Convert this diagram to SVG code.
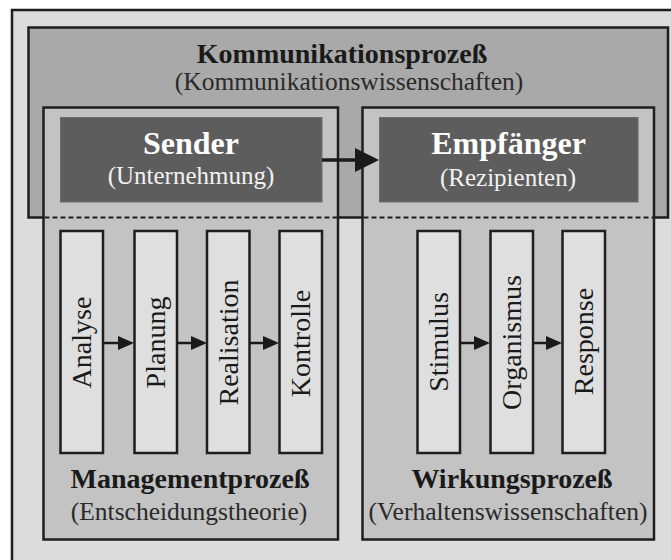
<svg xmlns="http://www.w3.org/2000/svg" width="671" height="560" viewBox="0 0 671 560">
  <defs>
    <style>
      .frame { fill: #dcdcdc; stroke: #1e1e1e; stroke-width: 2.5; }
      .komm { fill: #a9a9a9; stroke: #1e1e1e; stroke-width: 2.5; }
      .proc { fill: #c3c3c3; stroke: #1e1e1e; stroke-width: 2.5; }
      .actor { fill: #5d5d5d; stroke: #6c6c6c; stroke-width: 1; }
      .step { fill: #dfdfdf; stroke: #1e1e1e; stroke-width: 2.5; }
      .dash { stroke: #1e1e1e; stroke-width: 2; stroke-dasharray: 5 3; fill: none; }
      .edge { stroke: #1a1a1a; stroke-width: 2.5; fill: none; }
      .big { stroke: #1a1a1a; stroke-width: 3.5; fill: none; }
      .head { fill: #1a1a1a; }
      text { font-family: "Liberation Serif", "Times New Roman", serif; text-anchor: middle; }
      .title { font-weight: bold; font-size: 28px; fill: #1a1a1a; }
      .sub { font-size: 25.5px; fill: #2a2a2a; }
      .wtitle { font-weight: bold; font-size: 32px; fill: #ffffff; }
      .wsub { font-size: 25px; fill: #f2f2f2; }
      .vlabel { font-size: 28px; fill: #1a1a1a; }
    </style>
  </defs>

  <!-- background frame -->
  <rect class="frame" x="12" y="10" width="700" height="600"/>

  <!-- communication process band -->
  <g id="kommunikationsprozess">
    <rect class="komm" x="28.5" y="27.5" width="639.5" height="190"/>
    <text class="title" x="342" y="63">Kommunikationsprozeß</text>
    <text class="sub" x="349" y="90">(Kommunikationswissenschaften)</text>
  </g>

  <!-- management process column -->
  <g id="managementprozess">
    <rect class="proc" x="43.5" y="107.5" width="294.5" height="432"/>
    <line class="dash" x1="44.5" y1="217.5" x2="337" y2="217.5"/>
    <text class="title" x="190" y="488">Managementprozeß</text>
    <text class="sub" x="189" y="520">(Entscheidungstheorie)</text>
  </g>

  <!-- effect process column -->
  <g id="wirkungsprozess">
    <rect class="proc" x="362.5" y="107.5" width="291.5" height="432"/>
    <line class="dash" x1="363.5" y1="217.5" x2="653" y2="217.5"/>
    <text class="title" x="512" y="488">Wirkungsprozeß</text>
    <text class="sub" x="508" y="520">(Verhaltenswissenschaften)</text>
  </g>

  <g id="sender">
    <rect class="actor" x="60.5" y="117.5" width="261.5" height="84.5"/>
    <text class="wtitle" x="191" y="154">Sender</text>
    <text class="wsub" x="191" y="184">(Unternehmung)</text>
  </g>

  <g id="empfaenger">
    <rect class="actor" x="379.5" y="117.5" width="258.5" height="84.5"/>
    <text class="wtitle" x="508.5" y="154">Empfänger</text>
    <text class="wsub" x="508" y="186">(Rezipienten)</text>
  </g>

  <!-- management steps -->
  <g id="analyse">
    <rect class="step" x="60.5" y="231" width="42.5" height="222"/>
    <text class="vlabel" transform="translate(90.5,342.5) rotate(-90)">Analyse</text>
  </g>
  <g id="planung">
    <rect class="step" x="134.5" y="231" width="42.5" height="222"/>
    <text class="vlabel" transform="translate(164.5,342.5) rotate(-90)">Planung</text>
  </g>
  <g id="realisation">
    <rect class="step" x="207" y="231" width="42.5" height="222"/>
    <text class="vlabel" transform="translate(237.5,342.5) rotate(-90)">Realisation</text>
  </g>
  <g id="kontrolle">
    <rect class="step" x="279.5" y="231" width="42.5" height="222"/>
    <text class="vlabel" transform="translate(310,343.5) rotate(-90)">Kontrolle</text>
  </g>

  <!-- effect steps -->
  <g id="stimulus">
    <rect class="step" x="417.5" y="231" width="42.5" height="222"/>
    <text class="vlabel" transform="translate(447.5,342) rotate(-90)">Stimulus</text>
  </g>
  <g id="organismus">
    <rect class="step" x="490.5" y="231" width="42.5" height="222"/>
    <text class="vlabel" transform="translate(520.5,342.5) rotate(-90)">Organismus</text>
  </g>
  <g id="response">
    <rect class="step" x="562.5" y="231" width="42.5" height="222"/>
    <text class="vlabel" transform="translate(592.5,341.5) rotate(-90)">Response</text>
  </g>

  <!-- connectors -->
  <g id="connectors">
    <line class="big" x1="322" y1="160" x2="357" y2="160"/>
    <polygon class="head" points="355,148 379,160 355,172"/>

    <line class="edge" x1="103" y1="343" x2="120" y2="343"/>
    <polygon class="head" points="118,336 134,343 118,350"/>
    <line class="edge" x1="177" y1="343" x2="193" y2="343"/>
    <polygon class="head" points="191,336 207,343 191,350"/>
    <line class="edge" x1="249.5" y1="343" x2="265" y2="343"/>
    <polygon class="head" points="263,336 279,343 263,350"/>

    <line class="edge" x1="460" y1="343" x2="476" y2="343"/>
    <polygon class="head" points="474,336 490,343 474,350"/>
    <line class="edge" x1="533" y1="343" x2="548" y2="343"/>
    <polygon class="head" points="546,336 562,343 546,350"/>
  </g>
</svg>
